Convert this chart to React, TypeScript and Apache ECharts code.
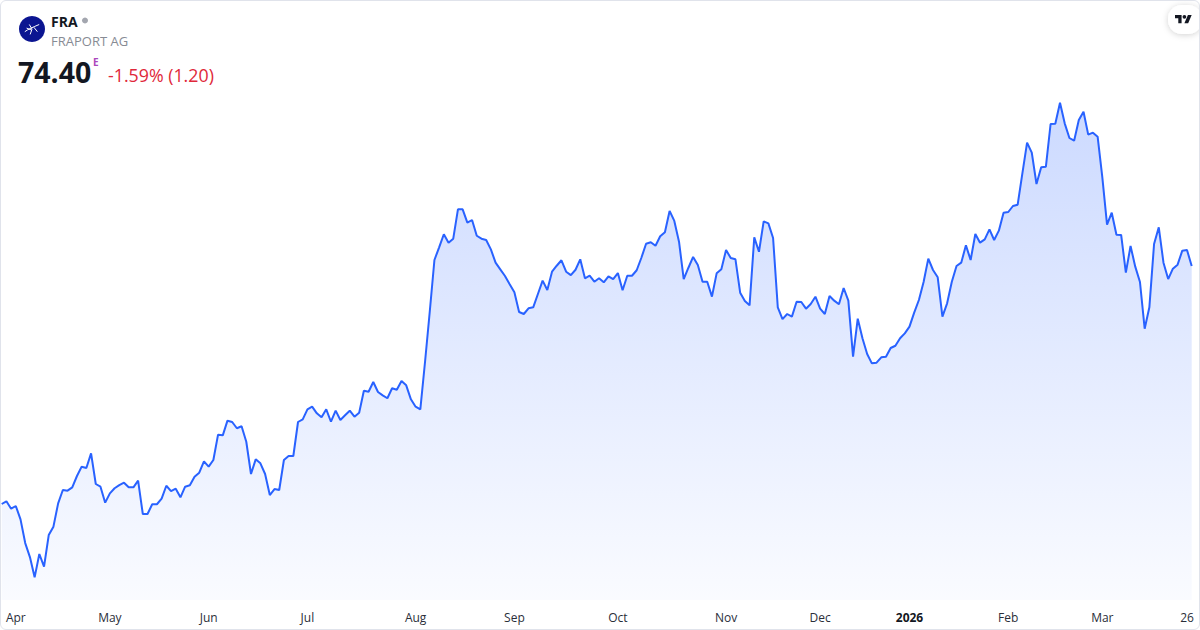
import React, { useEffect, useRef } from "react";
import * as echarts from "echarts";

// Daily closing prices (EUR)
const prices: number[] = [
  56.55, 56.75, 56.2, 56.4, 55.4, 53.62, 52.57, 51.05, 52.8, 51.85,
  54.22, 54.85, 56.6, 57.6, 57.55, 57.8, 58.65, 59.35, 59.25, 60.35,
  58.05, 57.85, 56.65, 57.35, 57.73, 57.97, 58.15, 57.8, 57.8, 58.3,
  55.8, 55.8, 56.53, 56.53, 56.95, 57.92, 57.52, 57.7, 57.05, 57.85,
  57.95, 58.6, 58.9, 59.75, 59.35, 59.85, 61.75, 61.7, 62.8, 62.7,
  62.23, 62.38, 61.22, 58.8, 59.9, 59.6, 58.8, 57.22, 57.67, 57.6,
  59.85, 60.15, 60.15, 62.7, 62.9, 63.65, 63.85, 63.35, 63.05, 63.65,
  62.72, 63.55, 62.85, 63.2, 63.55, 63.1, 63.4, 65.05, 64.97, 65.7,
  64.95, 64.7, 64.48, 65.23, 65.12, 65.77, 65.45, 64.4, 63.85, 63.65,
  67.2, 70.95, 74.85, 75.8, 76.78, 76.15, 76.45, 78.65, 78.65, 77.65,
  77.85, 76.67, 76.45, 76.35, 75.65, 74.65, 74.15, 73.65, 73.03, 72.43,
  70.95, 70.8, 71.23, 71.3, 72.3, 73.3, 72.6, 73.97, 74.42, 74.83,
  73.97, 73.72, 74.12, 74.9, 73.48, 73.67, 73.22, 73.48, 73.18, 73.63,
  73.42, 73.87, 72.58, 73.67, 73.67, 74.08, 75.02, 76.07, 76.18, 75.92,
  76.63, 76.93, 78.53, 77.78, 76.22, 73.42, 74.27, 75.08, 74.48, 73.22,
  73.22, 72.1, 73.85, 74.15, 75.6, 75.0, 74.9, 72.4, 71.77, 71.45,
  76.55, 75.47, 77.75, 77.6, 76.5, 71.3, 70.42, 70.8, 70.6, 71.72,
  71.7, 71.2, 71.55, 72.1, 71.2, 70.8, 72.15, 71.8, 71.53, 72.75,
  71.8, 67.6, 70.45, 68.98, 67.8, 67.1, 67.15, 67.55, 67.6, 68.25,
  68.42, 68.98, 69.35, 69.85, 70.9, 71.85, 73.2, 74.95, 74.1, 73.55,
  70.6, 71.6, 73.22, 74.4, 74.65, 75.95, 74.85, 76.8, 76.15, 76.4,
  77.15, 76.35, 77.05, 78.4, 78.45, 78.9, 79.0, 81.35, 83.65, 82.9,
  80.55, 81.8, 81.85, 85.05, 85.07, 86.65, 85.1, 84.0, 83.8, 85.35,
  85.97, 84.25, 84.4, 84.1, 81.05, 77.5, 78.4, 76.75, 76.73, 73.9,
  75.9, 74.35, 73.2, 69.7, 71.3, 76.05, 77.3, 74.65, 73.42, 74.2,
  74.5, 75.55, 75.6, 74.4,
];

// x-axis labels: position (trading-day index) and text
const tickIndex: number[] = [3, 23, 44, 65, 88, 109, 131, 154, 174, 193, 214, 234, 252];
const tickText: string[] = ["Apr", "May", "Jun", "Jul", "Aug", "Sep", "Oct", "Nov", "Dec", "2026", "Feb", "Mar", "26"];
const boldTicks: string[] = ["2026"];

const symbol = "FRA";
const company = "FRAPORT AG";
const lastPrice = "74.40";
const changeText = "-1.59% (1.20)";

echarts.graphic.registerShape(
  "tvlogo",
  echarts.graphic.extendPath(
    "M14 22H7V11H0V4h14v18zM28 22h-8l7.5-18h8L28 22zM24 8a4 4 0 1 1-8 0a4 4 0 1 1 8 0z",
    {}
  )
);
echarts.graphic.registerShape(
  "fraicon",
  echarts.graphic.extendPath(
    "M-8 3C-4 0 1-2 8-5M-3-5L0 0L-2 6M2-2L6 3M-6-1L-1 1",
    {}
  )
);

export default function App() {
  const ref = useRef<HTMLDivElement>(null);

  useEffect(() => {
    document.body.style.margin = "0";
    if (!ref.current) return;
    const chart = echarts.init(ref.current, undefined, { renderer: "svg" });
    const categories = prices.map((_, i) => String(i));
    const labelMap: Record<string, string> = {};
    tickIndex.forEach((idx, k) => (labelMap[String(idx)] = tickText[k]));

    const font = "'Open Sans', 'Noto Sans', sans-serif";

    chart.setOption({
      animation: false,
      backgroundColor: "#ffffff",
      grid: { left: 1.7, right: 8.3, top: 0, bottom: 30, containLabel: false },
      xAxis: {
        type: "category",
        data: categories,
        boundaryGap: false,
        axisLine: { show: false },
        axisTick: { show: false },
        splitLine: { show: false },
        axisLabel: {
          interval: (idx: number) => labelMap[String(idx)] !== undefined,
          formatter: (v: string) => {
            const t = labelMap[v];
            if (t === undefined) return "";
            return boldTicks.includes(t) ? "{b|" + t + "}" : t;
          },
          color: "#2a2e39",
          fontSize: 12,
          fontFamily: font,
          margin: 11,
          rich: { b: { fontWeight: "bold", fontSize: 12, color: "#131722", fontFamily: font } },
        },
      },
      yAxis: {
        type: "value",
        min: 49.35,
        max: 94.35,
        show: false,
        splitLine: { show: false },
      },
      series: [
        {
          type: "line",
          data: prices,
          showSymbol: false,
          symbol: "none",
          lineStyle: { color: "#2962ff", width: 2 },
          areaStyle: {
            color: new echarts.graphic.LinearGradient(0, 0, 0, 1, [
              { offset: 0, color: "rgba(41,98,255,0.34)" },
              { offset: 1, color: "rgba(41,98,255,0.035)" },
            ]),
          },
        },
      ],
      graphic: [
        { type: "circle", shape: { cx: 32, cy: 29, r: 13 }, style: { fill: "#0b1591" } },
        {
          type: "fraicon",
          x: 32,
          y: 29,
          scaleX: 0.9,
          scaleY: 0.9,
          style: { fill: "none", stroke: "#ffffff", lineWidth: 1.1 },
        },
        {
          type: "text",
          style: { text: symbol, x: 51, y: 21, fill: "#131722", font: "bold 14px " + font, textVerticalAlign: "middle" },
        },
        { type: "circle", shape: { cx: 85, cy: 20.5, r: 3 }, style: { fill: "#a3a6af" } },
        {
          type: "text",
          style: { text: company, x: 51, y: 41, fill: "#878b94", font: "13px " + font, textVerticalAlign: "middle" },
        },
        {
          type: "text",
          style: { text: lastPrice, x: 18, y: 72, fill: "#131722", font: "bold 28.5px " + font, textVerticalAlign: "middle" },
        },
        {
          type: "text",
          style: { text: "E", x: 93, y: 62, fill: "#ab47bc", font: "bold 10px " + font, textVerticalAlign: "middle" },
        },
        {
          type: "text",
          style: { text: changeText, x: 108, y: 75, fill: "#e0283a", font: "17.8px " + font, textVerticalAlign: "middle" },
        },
        {
          type: "rect",
          shape: { x: 1168, y: 5, width: 34, height: 29, r: 14 },
          style: { fill: "#ffffff", shadowBlur: 6, shadowColor: "rgba(0,0,0,0.18)", shadowOffsetY: 1 },
        },
        {
          type: "tvlogo",
          x: 1175,
          y: 13,
          scaleX: 0.47,
          scaleY: 0.47,
          style: { fill: "#131722" },
        },
      ],
    });

    return () => chart.dispose();
  }, []);

  return (
    <div style={{ position: "relative", width: 1200, height: 630, overflow: "hidden" }}>
      <div ref={ref} style={{ position: "absolute", left: 0, top: 0, width: 1200, height: 630 }} />
      <div
        style={{
          position: "absolute",
          left: 0,
          top: 0,
          width: 1200,
          height: 630,
          boxSizing: "border-box",
          border: "1px solid #e0e3eb",
          borderRadius: 6,
          pointerEvents: "none",
        }}
      />
    </div>
  );
}
